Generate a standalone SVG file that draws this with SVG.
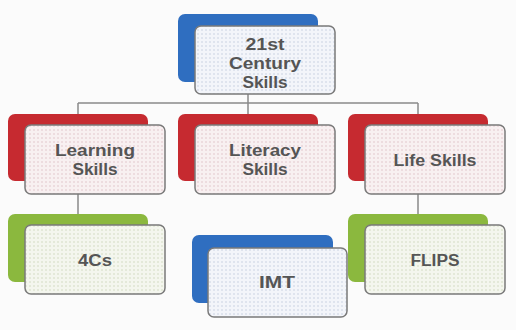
<svg xmlns="http://www.w3.org/2000/svg" width="516" height="330" viewBox="0 0 516 330">
<defs>
<pattern id="dotB" width="4" height="4" patternUnits="userSpaceOnUse"><rect width="4" height="4" fill="#f3f5fa"/><circle cx="2" cy="2" r="1" fill="#d9dfea"/></pattern>
<pattern id="dotR" width="4" height="4" patternUnits="userSpaceOnUse"><rect width="4" height="4" fill="#f8f0f1"/><circle cx="2" cy="2" r="1" fill="#ead6d9"/></pattern>
<pattern id="dotG" width="4" height="4" patternUnits="userSpaceOnUse"><rect width="4" height="4" fill="#f4f6ee"/><circle cx="2" cy="2" r="1" fill="#dfe5d2"/></pattern>
<style>
.back{stroke:none}
.blue{fill:#2f6ec0}
.red{fill:#c62a30}
.green{fill:#8bb83e}
.front{stroke:#7a7a7a;stroke-width:1.5}
.fb{fill:url(#dotB)}
.fr{fill:url(#dotR)}
.fg{fill:url(#dotG)}
.lbl{font-family:"Liberation Sans",Arial,sans-serif;font-size:16px;font-weight:bold;fill:#555;text-anchor:middle}
.con{stroke:#8a8a8a;stroke-width:1.5;fill:none}
</style>
</defs>
<rect width="516" height="330" fill="#fbfbfb"/>
<g id="connectors">
<path class="con" d="M248 94V103M78 103H418M78 103V114M248 103V114M418 103V114M78 194V214M418 194V214"/>
</g>
<g id="n21st">
<rect class="back blue" x="178" y="14" width="140" height="68" rx="7"/>
<rect class="front fb" x="195" y="26" width="140" height="68" rx="6"/>
<text class="lbl" x="265" y="50" textLength="39" lengthAdjust="spacingAndGlyphs">21st</text>
<text class="lbl" x="265" y="69" textLength="72" lengthAdjust="spacingAndGlyphs">Century</text>
<text class="lbl" x="265" y="88" textLength="45" lengthAdjust="spacingAndGlyphs">Skills</text>
</g>
<g id="nLearning">
<rect class="back red" x="8" y="114" width="140" height="67" rx="7"/>
<rect class="front fr" x="25" y="125" width="140" height="69" rx="6"/>
<text class="lbl" x="95" y="156" textLength="80" lengthAdjust="spacingAndGlyphs">Learning</text>
<text class="lbl" x="95" y="175" textLength="45" lengthAdjust="spacingAndGlyphs">Skills</text>
</g>
<g id="nLiteracy">
<rect class="back red" x="178" y="114" width="140" height="67" rx="7"/>
<rect class="front fr" x="195" y="125" width="140" height="69" rx="6"/>
<text class="lbl" x="265" y="156" textLength="72" lengthAdjust="spacingAndGlyphs">Literacy</text>
<text class="lbl" x="265" y="175" textLength="45" lengthAdjust="spacingAndGlyphs">Skills</text>
</g>
<g id="nLife">
<rect class="back red" x="348" y="114" width="140" height="67" rx="7"/>
<rect class="front fr" x="365" y="125" width="140" height="69" rx="6"/>
<text class="lbl" x="435" y="166" textLength="83" lengthAdjust="spacingAndGlyphs">Life Skills</text>
</g>
<g id="n4Cs">
<rect class="back green" x="8" y="214" width="140" height="68" rx="7"/>
<rect class="front fg" x="25" y="225" width="140" height="69" rx="6"/>
<text class="lbl" x="95" y="266" textLength="34" lengthAdjust="spacingAndGlyphs">4Cs</text>
</g>
<g id="nIMT">
<rect class="back blue" x="192" y="235" width="141" height="68" rx="7"/>
<rect class="front fb" x="208" y="248" width="139" height="69" rx="6"/>
<text class="lbl" x="277" y="288" textLength="36" lengthAdjust="spacingAndGlyphs">IMT</text>
</g>
<g id="nFLIPS">
<rect class="back green" x="348" y="214" width="140" height="68" rx="7"/>
<rect class="front fg" x="365" y="225" width="140" height="69" rx="6"/>
<text class="lbl" x="435" y="266" textLength="49" lengthAdjust="spacingAndGlyphs">FLIPS</text>
</g>
</svg>
